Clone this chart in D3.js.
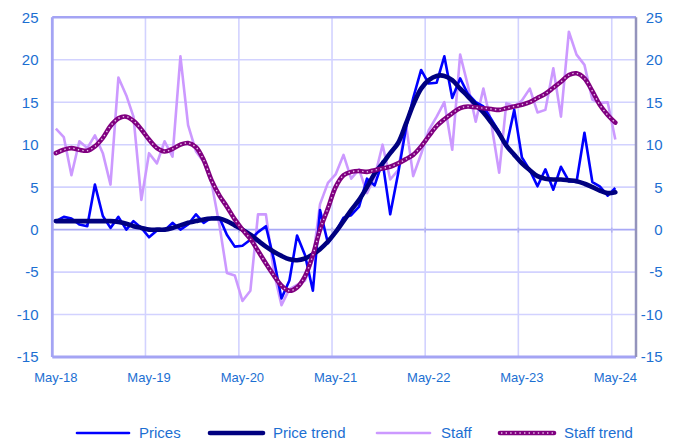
<!DOCTYPE html>
<html>
<head>
<meta charset="utf-8">
<script src="https://cdn.jsdelivr.net/npm/d3@7"></script>
<style>
  html, body { margin: 0; padding: 0; background: #fff; }
  svg { display: block; font-family: "Liberation Sans", Arial, sans-serif; }
</style>
</head>
<body>
<svg id="chart" width="678" height="443"></svg>
<script>
// ---- Data (monthly, May-18 .. May-24) ----
const startYear = 2018, startMonth = 4; // May 2018
const prices = [1.0, 1.5, 1.3, 0.6, 0.4, 5.3, 1.6, 0.2, 1.5, 0.0, 1.0, 0.2, -0.9, -0.1, -0.1, 0.8, 0.0, 0.6, 1.8, 0.8,
  1.4, 1.4, -0.6, -2.0, -1.9, -1.2, -0.3, 0.4, -3.5, -8.1, -6.0, -0.7, -3.0, -7.2, 2.3, -1.6, -0.3, 1.4, 1.7, 2.7,
  6.0, 5.2, 8.0, 1.8, 6.6, 12.0, 15.5, 18.8, 17.2, 17.3, 20.4, 15.5, 17.8, 16.0, 15.0, 14.5, 13.0, 11.5, 9.8, 14.1,
  8.5, 7.0, 5.1, 7.1, 4.7, 7.4, 5.7, 5.6, 11.4, 5.6, 5.1, 4.0, 4.9];
const priceTrend = [1.0, 1.0, 1.0, 1.0, 1.0, 1.0, 1.0, 1.0, 0.9, 0.7, 0.4, 0.2, 0.0, 0.0, 0.0, 0.2, 0.5, 0.8, 1.0, 1.2,
  1.3, 1.3, 1.0, 0.5, 0.0, -0.6, -1.3, -2.0, -2.6, -3.1, -3.5, -3.6, -3.4, -2.9, -2.3, -1.4, -0.3, 1.0, 2.3, 3.5,
  5.0, 6.6, 7.8, 9.0, 10.2, 12.5, 14.7, 16.6, 17.6, 18.1, 18.1, 17.6, 16.6, 15.7, 14.7, 13.8, 12.6, 11.3, 9.9, 8.8,
  7.8, 7.0, 6.3, 6.0, 5.9, 5.9, 5.8, 5.7, 5.4, 5.0, 4.6, 4.3, 4.4];
const staff = [11.9, 10.9, 6.4, 10.4, 9.6, 11.1, 9.0, 5.3, 17.9, 15.8, 13.3, 3.5, 9.0, 7.8, 10.4, 8.6, 20.4, 12.3, 9.2, 8.0,
  5.5, 0.5, -5.1, -5.4, -8.4, -7.2, 1.8, 1.8, -5.0, -8.9, -7.0, -6.5, -6.0, -3.5, 3.0, 5.5, 6.5, 8.8, 6.0, 7.1,
  4.3, 6.2, 10.0, 5.9, 7.0, 12.4, 6.3, 8.9, 11.7, 13.3, 15.0, 9.4, 20.6, 17.0, 12.7, 16.6, 12.5, 6.7, 14.9, 14.5,
  15.2, 16.6, 13.8, 14.1, 19.0, 13.3, 23.3, 20.6, 19.4, 15.3, 14.9, 15.0, 10.6];
const staffTrend = [9.0, 9.4, 9.6, 9.4, 9.3, 9.8, 10.8, 12.2, 13.1, 13.3, 12.8, 11.8, 10.6, 9.6, 9.2, 9.5, 10.0, 10.2, 9.7, 8.2,
  5.8, 4.0, 2.7, 1.2, 0.0, -1.1, -2.5, -4.0, -5.4, -6.6, -7.2, -6.8, -5.5, -3.0, 0.0, 2.5, 5.0, 6.4, 6.8, 6.9,
  6.8, 7.0, 7.2, 7.4, 7.8, 8.3, 8.8, 9.8, 11.0, 12.2, 13.0, 13.7, 14.3, 14.5, 14.4, 14.3, 14.2, 14.1, 14.3, 14.5,
  14.7, 15.0, 15.5, 16.0, 16.7, 17.4, 18.2, 18.4, 17.8, 16.3, 14.7, 13.5, 12.6];
const xTickLabels = ["May-18", "May-19", "May-20", "May-21", "May-22", "May-23", "May-24"];
const yTicks = [-15, -10, -5, 0, 5, 10, 15, 20, 25];
const legendLabels = ["Prices", "Price trend", "Staff", "Staff trend"];

// ---- Layout ----
const svg = d3.select("#chart");
const pL = 52.3, pR = 636, pT = 17.3, pB = 357;
const dateOf = i => new Date(startYear, startMonth + i, 15);
const x = d3.scaleTime()
  .domain([new Date(startYear, startMonth, 1), new Date(2024, 7, 4)])
  .range([pL, pR]);
const y = d3.scaleLinear().domain([-15, 25]).range([pB, pT]);

const tickColor = "#1c6fd2";
const gridColor = "#d2d2ff";

// Gridlines
const g = svg.append("g");
g.selectAll("line.h").data(yTicks).join("line")
  .attr("x1", pL).attr("x2", pR)
  .attr("y1", d => y(d)).attr("y2", d => y(d))
  .attr("stroke", d => d === 0 ? "#a8a8f6" : gridColor)
  .attr("stroke-width", 1.6);
const yearStarts = xTickLabels.map((_, k) => new Date(startYear + k, startMonth, 1));
g.selectAll("line.v").data(yearStarts).join("line")
  .attr("x1", d => x(d)).attr("x2", d => x(d))
  .attr("y1", pT).attr("y2", pB)
  .attr("stroke", gridColor).attr("stroke-width", 1.6);
g.selectAll("line.t").data(yearStarts).join("line")
  .attr("x1", d => x(d)).attr("x2", d => x(d))
  .attr("y1", y(0) - 2).attr("y2", y(0) + 3)
  .attr("stroke", "#b4b4f0").attr("stroke-width", 1.6);

// Plot border
svg.append("line").attr("x1", pL).attr("x2", pR).attr("y1", pT).attr("y2", pT)
  .attr("stroke", "#a4a4f4").attr("stroke-width", 2.5);
svg.append("line").attr("x1", pL).attr("x2", pR).attr("y1", pB).attr("y2", pB)
  .attr("stroke", "#a4a4f4").attr("stroke-width", 2.8);
svg.append("line").attr("x1", pL).attr("x2", pL).attr("y1", pT).attr("y2", pB)
  .attr("stroke", "#a4a4f4").attr("stroke-width", 2.8);
svg.append("line").attr("x1", pR).attr("x2", pR).attr("y1", pT).attr("y2", pB)
  .attr("stroke", "#9494bc").attr("stroke-width", 2.5);

// Axis labels
const lab = svg.append("g").attr("fill", tickColor);
lab.selectAll("text.yl").data(yTicks).join("text")
  .attr("x", 38.5).attr("y", d => y(d)).attr("dy", "0.36em")
  .attr("text-anchor", "end").attr("font-size", 15).text(d => d);
lab.selectAll("text.yr").data(yTicks).join("text")
  .attr("x", 662.5).attr("y", d => y(d)).attr("dy", "0.36em")
  .attr("text-anchor", "end").attr("font-size", 15).text(d => d);
lab.selectAll("text.xl").data(xTickLabels).join("text")
  .attr("x", (d, k) => x(new Date(startYear + k, startMonth, 15)))
  .attr("y", 381.5).attr("text-anchor", "middle").attr("font-size", 13)
  .text(d => d);

// Lines
const lineRaw = d3.line().x((d, i) => x(dateOf(i))).y(d => y(d));
const lineSmooth = d3.line().x((d, i) => x(dateOf(i))).y(d => y(d)).curve(d3.curveCatmullRom.alpha(0.5));

svg.append("path").datum(staff).attr("d", lineRaw)
  .attr("fill", "none").attr("stroke", "#cc99ff").attr("stroke-width", 2.6).attr("stroke-linejoin", "round");
svg.append("path").datum(prices).attr("d", lineRaw)
  .attr("fill", "none").attr("stroke", "#0000ff").attr("stroke-width", 2.6).attr("stroke-linejoin", "round");
svg.append("path").datum(priceTrend).attr("d", lineSmooth)
  .attr("fill", "none").attr("stroke", "#000080").attr("stroke-width", 4.6).attr("stroke-linecap", "round");
svg.append("path").datum(staffTrend).attr("d", lineSmooth)
  .attr("fill", "none").attr("stroke", "#800080").attr("stroke-width", 4.6).attr("stroke-linecap", "round");
svg.append("path").datum(staffTrend).attr("d", lineSmooth)
  .attr("fill", "none").attr("stroke", "#e8c0e8").attr("stroke-width", 1.4).attr("stroke-dasharray", "1.4 3.2");

// Legend
const legend = [
  { x1: 77, x2: 129, tx: 139, color: "#0000ff", w: 2.6 },
  { x1: 210, x2: 263, tx: 273, color: "#000080", w: 4.6 },
  { x1: 377, x2: 430, tx: 441, color: "#cc99ff", w: 2.6 },
  { x1: 500, x2: 554, tx: 564, color: "#800080", w: 4.6, dotted: true }
];
const ly = 433;
const lg = svg.append("g");
legend.forEach((d, k) => {
  lg.append("line").attr("x1", d.x1).attr("x2", d.x2).attr("y1", ly).attr("y2", ly)
    .attr("stroke", d.color).attr("stroke-width", d.w).attr("stroke-linecap", "round");
  if (d.dotted) {
    lg.append("line").attr("x1", d.x1 + 1).attr("x2", d.x2 - 1).attr("y1", ly).attr("y2", ly)
      .attr("stroke", "#e8c0e8").attr("stroke-width", 1.4).attr("stroke-dasharray", "1.4 3.2");
  }
  lg.append("text").attr("x", d.tx).attr("y", ly).attr("dy", "0.36em")
    .attr("font-size", 15).attr("fill", tickColor).text(legendLabels[k]);
});
</script>
</body>
</html>
